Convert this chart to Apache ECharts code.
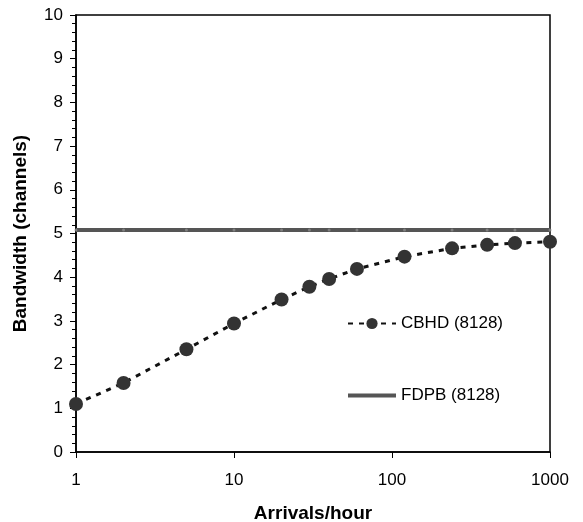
<!DOCTYPE html>
<html>
<head>
<meta charset="utf-8">
<script src="https://cdn.jsdelivr.net/npm/echarts@6/dist/echarts.min.js"></script>
<style>
html, body { margin: 0; padding: 0; background: #fff; }
#chart { width: 583px; height: 522px; }
</style>
</head>
<body>
<div id="chart"></div>
<script>
// arrivals per hour (x, log scale)
var arrivals = [1, 2, 5, 10, 20, 30, 40, 60, 120, 240, 400, 600, 1000];
// CBHD bandwidth
var cbhd = [1.1, 1.58, 2.35, 2.94, 3.49, 3.78, 3.96, 4.19, 4.47, 4.66, 4.74, 4.78, 4.81];
// FDPB is flat
var fdpb = [5.08, 5.08, 5.08, 5.08, 5.08, 5.08, 5.08, 5.08, 5.08, 5.08, 5.08, 5.08, 5.08];
var yTicks = [0, 10];

function pairs(xs, ys) {
    let out = [];
    for (let i = 0; i < xs.length; i++) {
        out.push([xs[i], ys[i]]);
    }
    return out;
}

let chart = echarts.init(document.getElementById("chart"));
var font = 'Liberation Sans, Arial, sans-serif';

var option = {
    animation: false,
    backgroundColor: '#fff',
    grid: {
        left: 76, right: 33, top: 15, bottom: 70,
        containLabel: false,
        outerBoundsMode: 'none',
        show: true, borderColor: '#000', borderWidth: 1.5
    },
    legend: {
        orient: 'vertical',
        left: 347,
        top: 315,
        padding: 0,
        itemWidth: 48,
        itemHeight: 14,
        itemGap: 55,
        textStyle: {color: '#000', fontSize: 17, fontFamily: font},
        data: [
            {name: 'CBHD (8128)'},
            {name: 'FDPB (8128)', icon: 'path://M0,0 L48,0 L48,4 L0,4 Z'}
        ]
    },
    xAxis: {
        type: 'log',
        logBase: 10,
        min: 1,
        max: 1000,
        name: 'Arrivals/hour',
        nameLocation: 'middle',
        nameGap: 52,
        nameTextStyle: {color: '#000', fontSize: 19, fontWeight: 'bold', fontFamily: font},
        axisLine: {lineStyle: {color: '#000', width: 1.5}},
        axisTick: {show: true, length: 6, lineStyle: {color: '#000'}},
        minorTick: {show: false},
        splitLine: {show: false},
        axisLabel: {
            color: '#000', fontSize: 17, fontFamily: font, margin: 20,
            formatter: function (v) { return String(Math.round(v)); }
        }
    },
    yAxis: {
        type: 'value',
        min: yTicks[0],
        max: yTicks[1],
        interval: 1,
        name: 'Bandwidth (channels)',
        nameLocation: 'middle',
        nameGap: 46,
        nameTextStyle: {color: '#000', fontSize: 19, fontWeight: 'bold', fontFamily: font},
        axisLine: {show: true, lineStyle: {color: '#000', width: 1.5}},
        axisTick: {show: true, length: 6, lineStyle: {color: '#000'}},
        minorTick: {show: true, splitNumber: 5, length: 4, lineStyle: {color: '#000'}},
        splitLine: {show: false},
        axisLabel: {color: '#000', fontSize: 17, fontFamily: font, margin: 13}
    },
    series: [
        {
            name: 'CBHD (8128)',
            type: 'line',
            data: pairs(arrivals, cbhd),
            symbol: 'circle',
            symbolSize: 14,
            itemStyle: {color: '#333'},
            lineStyle: {color: '#111', width: 3, type: [5, 6]},
            z: 3
        },
        {
            name: 'FDPB (8128)',
            type: 'line',
            data: pairs(arrivals, fdpb),
            showSymbol: false,
            symbol: 'none',
            itemStyle: {color: '#555'},
            lineStyle: {color: '#555', width: 4},
            z: 2
        },
        {
            name: 'fdpbMarks',
            type: 'scatter',
            data: pairs(arrivals, fdpb),
            symbol: 'circle',
            symbolSize: 3,
            itemStyle: {color: '#8a8a8a'},
            silent: true,
            z: 2
        }
    ]
};
chart.setOption(option);
</script>
</body>
</html>
